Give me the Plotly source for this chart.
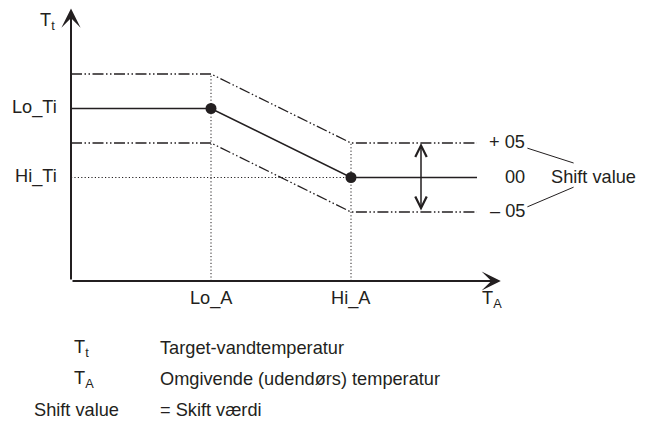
import plotly.graph_objects as go

# ---- data (conceptual units of the diagram) ----
LO_A, HI_A = 1.0, 2.0          # ambient temperature break points
LO_TI, HI_TI = 5.0, 3.0        # target water temperatures
SHIFT = 1.0                    # shift value step
X_END = 2.9                    # end of drawn curve
x_knots = [0.0, LO_A, HI_A, X_END]
target = [LO_TI, LO_TI, HI_TI, HI_TI]
upper = [v + SHIFT for v in target]
lower = [v - SHIFT for v in target]
x_tick_labels = ["Lo_A", "Hi_A"]
y_tick_labels = ["Lo_Ti", "Hi_Ti"]
shift_labels = ["+ 05", "00", "\u2013 05"]
legend_syms = ["T<sub>t</sub>", "T<sub>A</sub>", "Shift value"]
legend_texts = ["Target-vandtemperatur", "Omgivende (udendørs) temperatur", "= Skift værdi"]

OFF = 8                         # page body margin in the browser
W, H = 649 - OFF, 428 - OFF
X0_PX, Y0_PX = 71 - OFF, 281 - OFF
SX, SY = 140.0, 34.5
FONT = "Liberation Sans, Arial, sans-serif"
INK = "#231f20"
FS = 18.2

DASHDOTDOT = "11px,2.5px,1.5px,2.5px,1.5px,2.5px"
DOT = "1.2px,2.2px"

fig = go.Figure()

# dotted guide lines
fig.add_trace(go.Scatter(x=[LO_A, LO_A], y=[0, upper[1]], mode="lines",
                         line=dict(color=INK, width=1, dash=DOT), hoverinfo="skip"))
fig.add_trace(go.Scatter(x=[HI_A, HI_A], y=[0, upper[2]], mode="lines",
                         line=dict(color=INK, width=1, dash=DOT), hoverinfo="skip"))
fig.add_trace(go.Scatter(x=[0, HI_A], y=[HI_TI, HI_TI], mode="lines",
                         line=dict(color=INK, width=1, dash=DOT), hoverinfo="skip"))

# shift bands
for band in (upper, lower):
    fig.add_trace(go.Scatter(x=x_knots, y=band, mode="lines",
                             line=dict(color=INK, width=1.3, dash=DASHDOTDOT), hoverinfo="skip"))

# target curve
fig.add_trace(go.Scatter(x=x_knots, y=target, mode="lines",
                         line=dict(color=INK, width=1.6), hoverinfo="skip"))
fig.add_trace(go.Scatter(x=[LO_A, HI_A], y=[LO_TI, HI_TI], mode="markers",
                         marker=dict(color=INK, size=11), hoverinfo="skip"))

ann = []
# axes arrows
ann.append(dict(x=3.07, y=0, ax=0, ay=0, xref="x", yref="y", axref="x", ayref="y",
                showarrow=True, arrowhead=3, arrowwidth=2, arrowsize=1.6, arrowcolor=INK, text=""))
ann.append(dict(x=0, y=7.9, ax=0, ay=0, xref="x", yref="y", axref="x", ayref="y",
                showarrow=True, arrowhead=3, arrowwidth=2, arrowsize=1.6, arrowcolor=INK, text=""))
# double arrow for shift
XM = 2.5
ann.append(dict(x=XM, y=HI_TI + SHIFT, ax=XM, ay=HI_TI - SHIFT, xref="x", yref="y",
                axref="x", ayref="y", showarrow=True, arrowhead=5, startarrowhead=5,
                arrowside="end+start", arrowwidth=1.5, arrowsize=1.5, startarrowsize=1.5,
                arrowcolor=INK, text=""))

font = dict(family=FONT, size=FS, color=INK)
# y labels
for lab, yv in zip(y_tick_labels, [LO_TI, HI_TI]):
    ann.append(dict(x=0, y=yv, xref="x", yref="y", text=lab, showarrow=False,
                    xanchor="right", yanchor="middle", xshift=-12, yshift=1, font=font))
# x labels
for lab, xv in zip(x_tick_labels, [LO_A, HI_A]):
    ann.append(dict(x=xv, y=0, xref="x", yref="y", text=lab, showarrow=False,
                    xanchor="center", yanchor="top", yshift=-5, font=font))
# axis titles
ann.append(dict(x=0, y=7.9, xref="x", yref="y", text="T<sub>t</sub>", showarrow=False,
                xanchor="right", yanchor="middle", xshift=-14, yshift=-13, font=font))
ann.append(dict(x=X_END, y=0, xref="x", yref="y", text="T<sub>A</sub>", showarrow=False,
                xanchor="left", yanchor="top", xshift=3, yshift=-5, font=font))
# shift labels
for lab, yv in zip(shift_labels, [upper[-1], target[-1], lower[-1]]):
    ann.append(dict(x=X_END, y=yv, xref="x", yref="y", text=lab, showarrow=False,
                    xanchor="right", yanchor="middle", xshift=50, yshift=1, font=font))
ann.append(dict(x=X_END, y=HI_TI, xref="x", yref="y", text="Shift value", showarrow=False,
                xanchor="left", yanchor="middle", xshift=72, yshift=1, font=font))

# legend rows (page pixel positions)
rows_y = [348, 379, 410]
for sym, txt, py in zip(legend_syms, legend_texts, rows_y):
    yp = 1 - (py - OFF) / H
    if sym.startswith("T"):
        ann.append(dict(x=(72 - OFF) / W, y=yp, xref="paper", yref="paper", text=sym,
                        showarrow=False, xanchor="left", yanchor="middle", font=font))
    else:
        ann.append(dict(x=(121 - OFF) / W, y=yp, xref="paper", yref="paper", text=sym,
                        showarrow=False, xanchor="right", yanchor="middle", font=font))
    ann.append(dict(x=(158 - OFF) / W, y=yp, xref="paper", yref="paper", text=txt,
                    showarrow=False, xanchor="left", yanchor="middle", font=font))

# leader lines for shift value
shapes = []
x_a, x_b = X_END + 0.36, X_END + 0.69
shapes.append(dict(type="line", xref="x", yref="y", x0=x_a, y0=upper[-1] - 0.15,
                   x1=x_b, y1=HI_TI + 0.42, line=dict(color=INK, width=1)))
shapes.append(dict(type="line", xref="x", yref="y", x0=x_a, y0=lower[-1] + 0.15,
                   x1=x_b, y1=HI_TI - 0.28, line=dict(color=INK, width=1)))

fig.update_layout(
    width=W, height=H, margin=dict(l=0, r=0, t=0, b=0),
    paper_bgcolor="white", plot_bgcolor="white", showlegend=False,
    xaxis=dict(range=[-X0_PX / SX, (W - X0_PX) / SX], visible=False, fixedrange=True),
    yaxis=dict(range=[(Y0_PX - H) / SY, Y0_PX / SY], visible=False, fixedrange=True),
    annotations=ann, shapes=shapes,
)
fig.write_html("out.html")
